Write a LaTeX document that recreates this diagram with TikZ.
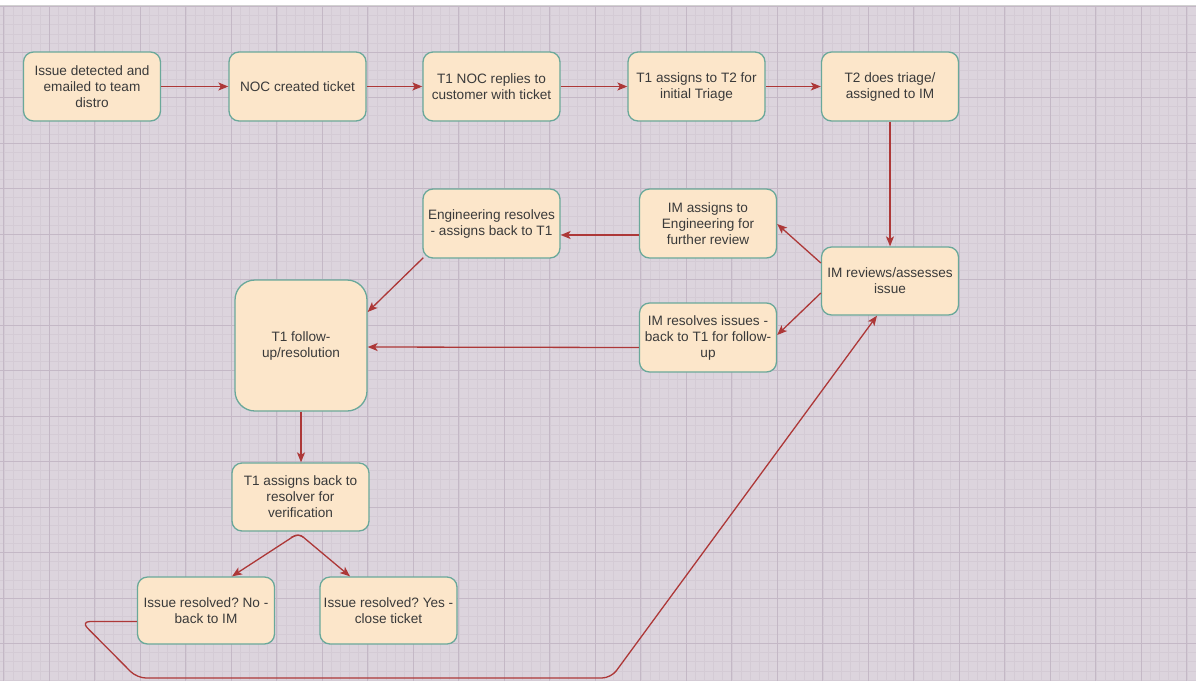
\documentclass[tikz,border=0pt]{standalone}
\usepackage{fontspec}
\setmainfont{Liberation Sans}
\frenchspacing
\usetikzlibrary{arrows.meta,calc}
\definecolor{bgc}{HTML}{DCD4DD}
\definecolor{minorc}{HTML}{D4CBD5}
\definecolor{majorc}{HTML}{C4B8C6}
\definecolor{nodefill}{HTML}{FCE6CA}
\definecolor{nodedraw}{HTML}{6AA89A}
\definecolor{arrc}{HTML}{AD3838}
\definecolor{txtc}{HTML}{3A3A3A}
\tikzset{
  box/.style={draw=nodedraw, fill=nodefill, line width=1.3pt, rounded corners=10pt,
    minimum width=137pt, minimum height=69pt, inner sep=2pt, align=center,
    text=txtc, font=\fontsize{13.6}{16}\selectfont},
  bigbox/.style={box, rounded corners=20pt, minimum width=132pt, minimum height=131pt},
  arr/.style={draw=arrc, line width=1.3pt, -{Stealth[length=10pt,width=8pt,inset=2.5pt]}, arrc},
  minorline/.style={draw=minorc, line width=0.5pt},
  majorline/.style={draw=majorc, line width=0.7pt}
}
\begin{document}
\begin{tikzpicture}[x=1pt,y=-1pt]
\useasboundingbox (0,0) rectangle (1196,681);
\fill[white] (0,0) rectangle (1196,681);
\fill[bgc] (0,6) rectangle (1196,681);
% minor grid
\foreach \i in {0,...,131} {\draw[minorline] ({3.8+\i*9.1},6) -- ({3.8+\i*9.1},681);}
\foreach \j in {0,...,74} {\draw[minorline] (0,{6.5+\j*9.1}) -- (1196,{6.5+\j*9.1});}
% major grid
\foreach \i in {0,...,26} {\draw[majorline] ({3.8+\i*45.5},6) -- ({3.8+\i*45.5},681);}
\foreach \j in {0,...,14} {\draw[majorline] (0,{6.5+\j*45.5}) -- (1196,{6.5+\j*45.5});}
\draw[draw=black!18, line width=1pt] (0,5.5) -- (1196,5.5);

% nodes
\node[box] (n1) at (92,86.5) {Issue detected and\\emailed to team\\distro};
\node[box] (n2) at (297.5,86.5) {NOC created ticket};
\node[box] (n3) at (491.5,86.5) {T1 NOC replies to\\customer with ticket};
\node[box] (n4) at (696.5,86.5) {T1 assigns to T2 for\\initial Triage};
\node[box] (n5) at (890,86.5) {T2 does triage/\\assigned to IM};
\node[box, minimum height=68pt] (n6) at (890,281) {IM reviews/assesses\\issue};
\node[box] (n7) at (708,223.5) {IM assigns to\\Engineering for\\further review};
\node[box] (n8) at (491.5,223.5) {Engineering resolves\\- assigns back to T1};
\node[box] (n9) at (708,337.5) {IM resolves issues -\\back to T1 for follow-\\up};
\node[bigbox] (n10) at (301,345.5) {T1 follow-\\up/resolution};
\node[box, minimum height=68pt] (n11) at (300.5,497) {T1 assigns back to\\resolver for\\verification};
\node[box, minimum height=67pt] (n12) at (206,610.5) {Issue resolved? No -\\back to IM};
\node[box, minimum height=67pt] (n13) at (388.5,610.5) {Issue resolved? Yes -\\close ticket};

% connectors
\draw[arr] (n1) -- (n2);
\draw[arr] (n2) -- (n3);
\draw[arr] (n3) -- (n4);
\draw[arr] (n4) -- (n5);
\draw[arr] (n5) -- (n6);
\draw[arr] ($(n6.west)+(0,-18)$) -- ($(n7.east)+(0,0.5)$);
\draw[arr] ($(n6.west)+(0,12)$) -- ($(n9.east)+(0,-2.5)$);
\draw[arr] ($(n7.west)+(0,11.5)$) -- ($(n8.east)+(0,11.5)$);
\draw[arr] ($(n8.south west)+(1,-1)$) -- ($(n10.east)+(0,-33.5)$);
\draw[arr] ($(n9.west)+(0,10)$) -- ($(n10.east)+(0,1.5)$);
\draw[arr] (n10.south) -- (n10.south |- n11.north);
\coordinate (apx) at ($(n11.south)+(-2,1.5)$);
\coordinate (tl) at ($(n12.north)+(26,0)$);
\coordinate (tr) at ($(n13.north)+(-38.5,0)$);
\draw[arr, rounded corners=6pt] ($(apx)!6pt!(tr)$) -- (apx) -- (tl);
\draw[arr, rounded corners=6pt] ($(apx)!6pt!(tl)$) -- (apx) -- (tr);
\coordinate (w1) at (81,621.5);
\coordinate (w2) at (137,678);
\coordinate (w3) at (611,678);
\draw[arr, rounded corners=9pt] ($(n12.west)+(0,11)$) -- (w1) -- (w2) -- (w3) -- ($(n6.south)+(-13,0)$);
\end{tikzpicture}
\end{document}
